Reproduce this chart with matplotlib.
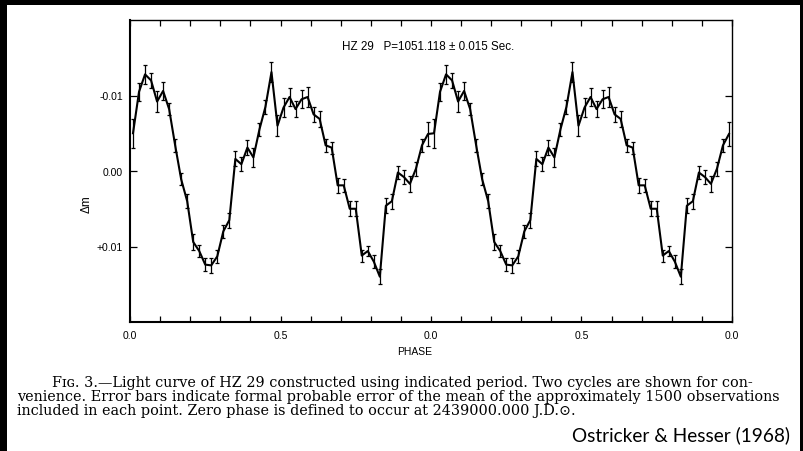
import numpy as np
import matplotlib
matplotlib.use("Agg")
import matplotlib.pyplot as plt
from matplotlib.patches import Rectangle
from matplotlib.ticker import FixedLocator, FixedFormatter, MultipleLocator

# Phase-folded light curve of HZ 29 (one cycle, bin centres every 0.02 in phase)
phase = np.round(np.arange(0.01, 1.0, 0.02), 2)
delta_m = np.array([
    -5.0, -10.5, -12.8, -12.0, -9.2, -10.6, -8.2, -3.4, 1.1, 4.0,
    9.4, 10.6, 12.4, 12.5, 11.3, 8.0, 6.5, -1.6, -0.9, -3.1,
    -1.8, -5.5, -8.5, -13.1, -6.0, -8.4, -9.8, -8.2, -9.5, -9.8,
    -7.5, -6.9, -3.4, -3.1, 1.9, 1.9, 5.0, 5.0, 11.2, 10.6,
    12.0, 14.0, 4.6, 4.0, 0.2, 0.8, 1.7, -0.3, -3.4, -4.9,
]) * 1e-3
probable_error = np.array([
    1.9, 1.2, 1.3, 1.0, 1.4, 1.2, 0.8, 0.9, 0.8, 0.9,
    1.0, 0.8, 0.9, 1.0, 0.9, 0.9, 1.0, 1.0, 0.9, 1.0,
    1.3, 0.8, 0.9, 1.3, 1.4, 1.3, 1.2, 1.1, 1.2, 1.3,
    1.0, 1.1, 0.9, 0.8, 1.0, 0.9, 1.0, 1.0, 0.8, 0.7,
    0.9, 1.0, 1.0, 1.0, 0.9, 0.9, 1.1, 0.9, 0.9, 1.6,
]) * 1e-3
n_cycles = 2

x_ticks = [0.0, 0.5, 1.0, 1.5, 2.0]
x_tick_labels = ["0.0", "0.5", "0.0", "0.5", "0.0"]
y_ticks = [-0.01, 0.0, 0.01]
y_tick_labels = ["-0.01", "0.00", "+0.01"]

title_text = "HZ 29   P=1051.118 \u00b1 0.015 Sec."
caption_lines = [
    "F\u026a\u0262. 3.\u2014Light curve of HZ 29 constructed using indicated period. Two cycles are shown for con-",
    "venience. Error bars indicate formal probable error of the mean of the approximately 1500 observations",
    "included in each point. Zero phase is defined to occur at 2439000.000 J.D.\u2299.",
]
credit = "Ostricker & Hesser (1968)"

# two cycles shown side by side
x_all = np.concatenate([phase + c for c in range(n_cycles)])
y_all = np.tile(delta_m, n_cycles)
e_all = np.tile(probable_error, n_cycles)

W, H = 804, 452
fig = plt.figure(figsize=(W / 100, H / 100), dpi=100)
fig.patch.set_facecolor("white")

ax = fig.add_axes([130 / W, 1 - 323 / H, (732 - 130) / W, (323 - 21) / H])
ax.errorbar(x_all, y_all, yerr=e_all, color="black", lw=1.5,
            elinewidth=0.9, capsize=1.4, capthick=0.9, clip_on=True)
ax.set_xlim(0, 2)
ax.set_ylim(0.02, -0.02)

ax.xaxis.set_major_locator(FixedLocator(x_ticks))
ax.xaxis.set_major_formatter(FixedFormatter(x_tick_labels))
ax.xaxis.set_minor_locator(MultipleLocator(0.1))
ax.yaxis.set_major_locator(FixedLocator(y_ticks))
ax.yaxis.set_major_formatter(FixedFormatter(y_tick_labels))

ax.tick_params(axis="both", which="both", direction="in", top=True, right=True,
               color="black", width=0.9)
ax.tick_params(axis="x", which="major", length=4, pad=6, labelsize=7.5)
ax.tick_params(axis="x", which="minor", length=4)
ax.tick_params(axis="y", which="major", length=5, pad=5, labelsize=7.5)
for t in ax.get_xticklabels() + ax.get_yticklabels():
    t.set_fontfamily("Liberation Sans")

for side, lw in (("left", 1.5), ("bottom", 1.5), ("top", 1.0), ("right", 1.0)):
    ax.spines[side].set_linewidth(lw)
    ax.spines[side].set_color("black")

fig.text(342 / W, 1 - 47 / H, title_text, ha="left", va="center",
         fontsize=8.4, family="Liberation Sans")
fig.text(87 / W, 1 - 204 / H, "\u0394m", rotation=90, ha="center", va="center",
         fontsize=8.5, family="Liberation Sans")
fig.text(415 / W, 1 - 352 / H, "PHASE", ha="center", va="center",
         fontsize=7.5, family="Liberation Sans")

cap_font = dict(fontsize=10.4, family=["DejaVu Serif", "DejaVu Sans"], va="center", ha="left")
fig.text(52 / W, 1 - 383 / H, caption_lines[0], **cap_font)
fig.text(17 / W, 1 - 397 / H, caption_lines[1], **cap_font)
fig.text(17 / W, 1 - 411 / H, caption_lines[2], **cap_font)

fig.text(790 / W, 1 - 435 / H, credit, ha="right", va="center",
         fontsize=13.7, family="Lato")

# dark frame strips along the top, left and right edges
for (x0, y0, w, h) in ((0, 0, W, 6), (0, 0, 7, H), (800, 0, 4, H)):
    fig.patches.append(Rectangle((x0 / W, 1 - (y0 + h) / H), w / W, h / H,
                                 transform=fig.transFigure, facecolor="black",
                                 edgecolor="none", zorder=10))

fig.savefig("out.png", dpi=100, facecolor="white")
